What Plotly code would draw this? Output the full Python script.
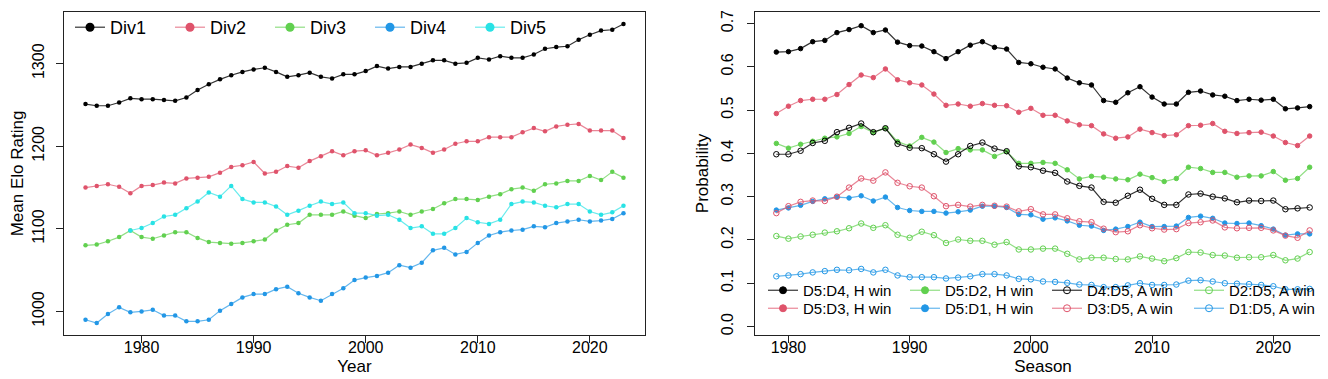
import plotly.graph_objects as go

# ---------------- data ----------------
years = list(range(1975, 2024))
div1 = [1251, 1249, 1249, 1253, 1258, 1257, 1257, 1256, 1255, 1259,
        1268, 1275, 1281, 1286, 1290, 1293, 1295, 1290, 1284, 1286,
        1289, 1284, 1282, 1287, 1287, 1291, 1297, 1294, 1296, 1296,
        1300, 1304, 1304, 1300, 1301, 1307, 1305, 1309, 1307, 1307,
        1311, 1318, 1320, 1321, 1329, 1335, 1340, 1341, 1348]
div2 = [1150, 1152, 1154, 1151, 1143, 1152, 1153, 1156, 1155, 1161,
        1162, 1163, 1168, 1175, 1177, 1181, 1167, 1169, 1176, 1174,
        1182, 1188, 1194, 1189, 1194, 1195, 1189, 1192, 1196, 1202,
        1198, 1192, 1196, 1203, 1206, 1206, 1211, 1211, 1211, 1217,
        1222, 1218, 1224, 1226, 1227, 1219, 1219, 1219, 1210]
div3 = [1080, 1081, 1085, 1090, 1098, 1090, 1088, 1092, 1096, 1096,
        1089, 1084, 1083, 1082, 1083, 1085, 1087, 1098, 1105, 1107,
        1117, 1117, 1117, 1121, 1116, 1113, 1118, 1119, 1121, 1117,
        1121, 1124, 1131, 1136, 1136, 1135, 1139, 1142, 1148, 1150,
        1146, 1154, 1155, 1158, 1158, 1164, 1159, 1169, 1162]
div4 = [990, 986, 997, 1005, 999, 1000, 1002, 995, 995, 988,
        988, 990, 1001, 1009, 1017, 1021, 1021, 1027, 1030, 1022,
        1017, 1013, 1021, 1028, 1038, 1041, 1043, 1047, 1056, 1053,
        1059, 1074, 1077, 1069, 1072, 1083, 1092, 1096, 1098, 1099,
        1103, 1102, 1107, 1109, 1111, 1109, 1110, 1112, 1119]
div5 = [None, None, None, None, 1098, 1101, 1107, 1115, 1117, 1125,
        1133, 1144, 1139, 1152, 1136, 1132, 1132, 1127, 1117, 1122,
        1128, 1133, 1130, 1132, 1119, 1119, 1116, 1117, 1111, 1101,
        1103, 1094, 1094, 1101, 1113, 1108, 1106, 1111, 1130, 1133,
        1132, 1128, 1126, 1130, 1130, 1121, 1117, 1120, 1128]
div_names = ["Div1", "Div2", "Div3", "Div4", "Div5"]

seasons = list(range(1979, 2024))
d5d4_h = [0.634, 0.635, 0.642, 0.658, 0.661, 0.679, 0.686, 0.695, 0.679, 0.685,
          0.657, 0.649, 0.648, 0.635, 0.619, 0.635, 0.650, 0.658, 0.645, 0.641,
          0.610, 0.607, 0.599, 0.595, 0.574, 0.563, 0.558, 0.522, 0.518, 0.540,
          0.554, 0.530, 0.514, 0.514, 0.541, 0.544, 0.535, 0.532, 0.522, 0.525,
          0.523, 0.525, 0.503, 0.505, 0.508]
d5d3_h = [0.492, 0.509, 0.522, 0.525, 0.525, 0.536, 0.559, 0.581, 0.575, 0.595,
          0.570, 0.563, 0.558, 0.537, 0.511, 0.514, 0.509, 0.515, 0.511, 0.510,
          0.495, 0.504, 0.488, 0.488, 0.475, 0.466, 0.464, 0.445, 0.435, 0.438,
          0.456, 0.448, 0.441, 0.443, 0.464, 0.465, 0.469, 0.451, 0.446, 0.448,
          0.449, 0.440, 0.425, 0.418, 0.440]
d5d2_h = [0.423, 0.412, 0.421, 0.428, 0.435, 0.438, 0.446, 0.462, 0.448, 0.458,
          0.427, 0.417, 0.437, 0.426, 0.402, 0.411, 0.408, 0.408, 0.393, 0.404,
          0.377, 0.377, 0.379, 0.377, 0.362, 0.341, 0.347, 0.345, 0.341, 0.339,
          0.352, 0.344, 0.335, 0.342, 0.368, 0.365, 0.356, 0.356, 0.345, 0.348,
          0.348, 0.358, 0.338, 0.342, 0.368]
d5d1_h = [0.269, 0.274, 0.280, 0.289, 0.295, 0.299, 0.297, 0.302, 0.290, 0.299,
          0.275, 0.268, 0.266, 0.266, 0.262, 0.265, 0.269, 0.278, 0.278, 0.275,
          0.259, 0.258, 0.248, 0.251, 0.244, 0.234, 0.232, 0.222, 0.225, 0.231,
          0.241, 0.231, 0.231, 0.232, 0.252, 0.255, 0.250, 0.239, 0.238, 0.239,
          0.233, 0.225, 0.211, 0.214, 0.214]
d4d5_a = [0.398, 0.398, 0.406, 0.424, 0.429, 0.449, 0.459, 0.469, 0.449, 0.458,
          0.422, 0.413, 0.412, 0.398, 0.381, 0.398, 0.417, 0.425, 0.411, 0.405,
          0.370, 0.368, 0.360, 0.355, 0.335, 0.325, 0.321, 0.288, 0.286, 0.302,
          0.316, 0.295, 0.281, 0.281, 0.305, 0.307, 0.300, 0.296, 0.287, 0.291,
          0.290, 0.291, 0.271, 0.273, 0.275]
d3d5_a = [0.262, 0.278, 0.288, 0.291, 0.290, 0.300, 0.321, 0.342, 0.337, 0.356,
          0.332, 0.324, 0.321, 0.301, 0.278, 0.281, 0.277, 0.281, 0.279, 0.277,
          0.266, 0.271, 0.259, 0.259, 0.250, 0.243, 0.241, 0.226, 0.218, 0.220,
          0.234, 0.227, 0.224, 0.225, 0.239, 0.241, 0.245, 0.229, 0.227, 0.228,
          0.228, 0.222, 0.210, 0.205, 0.222]
d2d5_a = [0.209, 0.203, 0.208, 0.212, 0.217, 0.220, 0.227, 0.238, 0.228, 0.234,
          0.212, 0.205, 0.219, 0.211, 0.193, 0.201, 0.198, 0.198, 0.189, 0.195,
          0.178, 0.178, 0.180, 0.180, 0.168, 0.155, 0.159, 0.159, 0.156, 0.155,
          0.162, 0.157, 0.151, 0.158, 0.172, 0.171, 0.165, 0.164, 0.159, 0.160,
          0.160, 0.165, 0.153, 0.157, 0.172]
d1d5_a = [0.116, 0.118, 0.121, 0.125, 0.128, 0.131, 0.130, 0.133, 0.125, 0.131,
          0.118, 0.114, 0.114, 0.114, 0.111, 0.113, 0.116, 0.121, 0.121, 0.118,
          0.110, 0.109, 0.104, 0.103, 0.101, 0.097, 0.096, 0.091, 0.091, 0.095,
          0.100, 0.096, 0.096, 0.097, 0.106, 0.107, 0.104, 0.100, 0.099, 0.098,
          0.096, 0.093, 0.086, 0.086, 0.087]
prob_names = ["D5:D4, H win", "D5:D3, H win", "D5:D2, H win", "D5:D1, H win",
              "D4:D5, A win", "D3:D5, A win", "D2:D5, A win", "D1:D5, A win"]

left_xticks = [1980, 1990, 2000, 2010, 2020]
left_yticks = [1000, 1100, 1200, 1300]
right_xticks = [1980, 1990, 2000, 2010, 2020]
right_yticks = [0.0, 0.1, 0.2, 0.3, 0.4, 0.5, 0.6, 0.7]

# ---------------- styling ----------------
W, H = 1328, 379
FONT = "Liberation Sans, Arial, Helvetica, sans-serif"
cols = ["#000000", "#DF536B", "#61D04F", "#2297E6", "#28E2E5"]
line_cols = ["rgba(0,0,0,0.8)", "rgba(223,83,107,0.7)", "rgba(97,208,79,0.7)",
             "rgba(34,151,230,0.7)", "rgba(40,226,229,0.7)"]

fig = go.Figure()

# left panel
div_series = [div1, div2, div3, div4, div5]
for i, (name, vals) in enumerate(zip(div_names, div_series)):
    fig.add_trace(go.Scatter(
        x=years, y=vals, mode="lines+markers", name=name, showlegend=False,
        line=dict(color=line_cols[i], width=1.2),
        marker=dict(color=cols[i], size=4.5),
        xaxis="x", yaxis="y", connectgaps=False))
for i, name in enumerate(div_names):
    fig.add_trace(go.Scatter(
        x=[None], y=[None], mode="lines+markers", name=name, showlegend=True,
        legend="legend",
        line=dict(color=line_cols[i], width=1.2),
        marker=dict(color=cols[i], size=9),
        xaxis="x", yaxis="y"))

# right panel
prob_series = [d5d4_h, d5d3_h, d5d2_h, d5d1_h, d4d5_a, d3d5_a, d2d5_a, d1d5_a]
# legend layout: two rows of four entries
legend_of = ["legend2", "legend3", "legend2", "legend3",
             "legend2", "legend3", "legend2", "legend3"]
for j, (name, vals) in enumerate(zip(prob_names, prob_series)):
    ci = j % 4
    filled = j < 4
    fig.add_trace(go.Scatter(
        x=seasons, y=vals, mode="lines+markers", name=name, showlegend=False,
        line=dict(color=line_cols[ci], width=1.2),
        marker=dict(color=cols[ci], size=4.5 if filled else 5.5,
                    symbol="circle" if filled else "circle-open",
                    line=dict(width=1, color=cols[ci])),
        xaxis="x2", yaxis="y2"))
for j, name in enumerate(prob_names):
    ci = j % 4
    filled = j < 4
    fig.add_trace(go.Scatter(
        x=[None], y=[None], mode="lines+markers", name=name, showlegend=True,
        legend=legend_of[j],
        line=dict(color=line_cols[ci], width=1.2),
        marker=dict(color=cols[ci], size=7,
                    symbol="circle" if filled else "circle-open",
                    line=dict(width=1, color=cols[ci])),
        xaxis="x2", yaxis="y2"))

def px_x(p):
    return p / W

def px_y(p):
    return 1 - p / H

axis_common = dict(showgrid=False, zeroline=False, showline=True, mirror=True,
                   linecolor="#222", linewidth=1, ticks="outside", ticklen=7,
                   tickcolor="#222", tickwidth=1,
                   tickfont=dict(family=FONT, size=16, color="black"))
title_font = dict(family=FONT, size=17, color="black")

top_px, bot_px = 4, 327
leg_common = dict(orientation="h", xanchor="left", yanchor="top",
                  bgcolor="rgba(0,0,0,0)", borderwidth=0,
                  entrywidthmode="pixels")

fig.update_layout(
    width=W, height=H, autosize=False,
    margin=dict(l=0, r=0, t=0, b=0, autoexpand=False),
    paper_bgcolor="white", plot_bgcolor="white",
    font=dict(family=FONT, color="black"),
    xaxis=dict(domain=[px_x(56), px_x(637)], range=[1973.08, 2024.92],
               tickvals=left_xticks, anchor="y", ticklabelstandoff=-9,
               title=dict(text="Year", font=title_font, standoff=4),
               **axis_common),
    yaxis=dict(domain=[px_y(bot_px), px_y(top_px)], range=[971.5, 1362.5],
               tickvals=left_yticks, tickangle=-90, anchor="x",
               ticklabelstandoff=6,
               title=dict(text="Mean Elo Rating", font=title_font, standoff=5),
               **axis_common),
    xaxis2=dict(domain=[px_x(747), px_x(1323)], range=[1977.24, 2024.76],
                tickvals=right_xticks, anchor="y2", ticklabelstandoff=-9,
                title=dict(text="Season", font=title_font, standoff=4),
                **axis_common),
    yaxis2=dict(domain=[px_y(bot_px), px_y(top_px)], range=[-0.0196, 0.7266],
                tickvals=right_yticks, tickformat=".1f", tickangle=-90,
                anchor="x2", ticklabelstandoff=8,
                title=dict(text="Probability", font=title_font, standoff=5),
                **axis_common),
    legend=dict(x=px_x(62), y=px_y(1), entrywidth=55,
                font=dict(family=FONT, size=18, color="black"), **leg_common),
    legend2=dict(x=px_x(755), y=px_y(266), entrywidth=97,
                 font=dict(family=FONT, size=15, color="black"), **leg_common),
    legend3=dict(x=px_x(755), y=px_y(284), entrywidth=97,
                 font=dict(family=FONT, size=15, color="black"), **leg_common),
)

fig.write_html("out.html")
